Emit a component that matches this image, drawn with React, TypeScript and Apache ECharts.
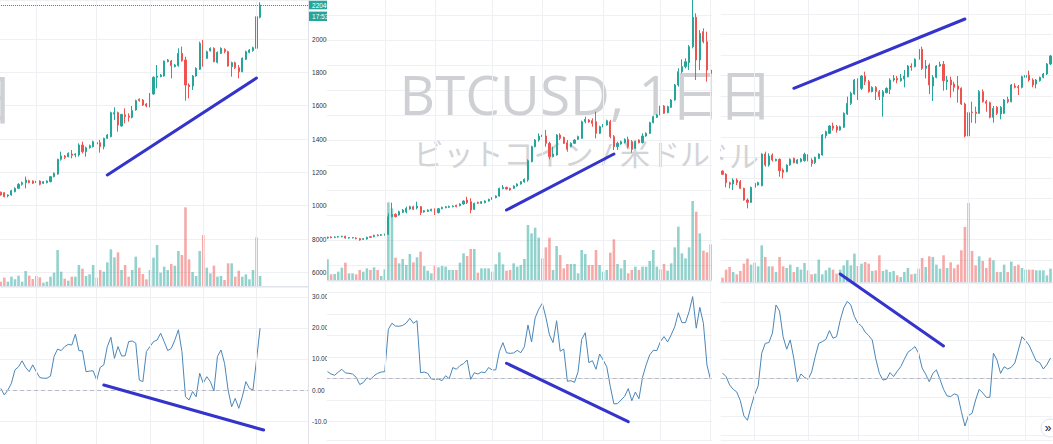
import React, { useEffect, useRef } from "react";
import * as echarts from "echarts";

// ---------- colours ----------
const UP = "#26a69a";
const DOWN = "#ef5350";
const UP_VOL = "rgba(38,166,154,0.5)";
const DOWN_VOL = "rgba(239,83,80,0.5)";
const GRID = "#eef0f3";
const BORDER = "#e0e3eb";
const OSC = "#4a86b8";
const PEN = "#3434cc";

// ---------- text ----------
const WATERMARK = "BTCUSD, 1日";
const WATERMARK_SUB = "ビットコイン / 米ドル";
const COUNTDOWN = "17:53";

// ---------- panel 1 data: [open, close, low, high] ----------
const p1Candles = [
  [10800, 10640, 10600, 10850], [10780, 10540, 10500, 10800], [10580, 10640, 10500, 10680], [10640, 10900, 10600, 10950],
  [10840, 11040, 10800, 11100], [11040, 11280, 11000, 11350], [11280, 11380, 11200, 11450], [11380, 11540, 11040, 11740],
  [11500, 11380, 11340, 11560], [11480, 11340, 11300, 11520], [11380, 11480, 11340, 11520], [11480, 11280, 11220, 11520],
  [11340, 11440, 11300, 11480], [11380, 11480, 11340, 11520], [11440, 11740, 11400, 11780], [11740, 11940, 11700, 12000],
  [11900, 12780, 11860, 12820], [12780, 12980, 12700, 13240], [12980, 12900, 12800, 13040], [12940, 13140, 12900, 13200],
  [13100, 13020, 12840, 13340], [13040, 13100, 12900, 13140], [13040, 13640, 12940, 13740], [13640, 13240, 13140, 13840],
  [13240, 13480, 12940, 13540], [13480, 13600, 13420, 13660], [13540, 13840, 13500, 13900], [13780, 13700, 13660, 13840],
  [13780, 13540, 13180, 13940], [13540, 14040, 13380, 14080], [14040, 14240, 14000, 14300], [14140, 15580, 14100, 15640],
  [15500, 15580, 15140, 15900], [15580, 14840, 14440, 15640], [14780, 15480, 14740, 15500], [15460, 15340, 14940, 15840],
  [15380, 15300, 15040, 15540], [15300, 15700, 15240, 15980], [15740, 16300, 15700, 16360], [16380, 16300, 16240, 16440],
  [16340, 16040, 15980, 16400], [16100, 15980, 15900, 16160], [15940, 16700, 15900, 16760], [16700, 17700, 16660, 17760],
  [17700, 17780, 17040, 18440], [17740, 17840, 17700, 17900], [17780, 18680, 17740, 18700], [18640, 18740, 18600, 18800],
  [18680, 18400, 17640, 18740], [18340, 18440, 18300, 18500], [18400, 19140, 18340, 19440], [19140, 18700, 18640, 19540],
  [18740, 17240, 16300, 18940], [17240, 17140, 16440, 17340], [17180, 17780, 16940, 17840], [17780, 18240, 17740, 18300],
  [18180, 19740, 18140, 19840], [19740, 18840, 18340, 19940], [18840, 19240, 18800, 19300], [19300, 19440, 19240, 19500],
  [19440, 18640, 18600, 19500], [18600, 19200, 18540, 19260], [19140, 19440, 19100, 19500], [19380, 19240, 19140, 19440],
  [19240, 18380, 18340, 19300], [18340, 18580, 17740, 18640], [18580, 18280, 18200, 18640], [18280, 18040, 17640, 18440],
  [18040, 18840, 18000, 18900], [18780, 19240, 18740, 19300], [19200, 19340, 19140, 19400], [19300, 19480, 19240, 19540],
  [19440, 21340, 19340, 21400], [21300, 22040, 21240, 22200],
];
const p1Volume = [
  13, 25, 13, 28, 20, 31, 13, 45, 31, 21, 30, 26, 10, 13, 28, 40, 108, 43, 22, 16,
  28, 28, 63, 52, 30, 35, 63, 25, 48, 43, 71, 110, 86, 101, 48, 63, 28, 48, 88, 55,
  36, 20, 48, 85, 123, 40, 58, 48, 66, 61, 105, 93, 236, 80, 42, 30, 105, 153, 55, 38,
  61, 28, 30, 18, 68, 68, 28, 46, 28, 35, 20, 48, 146, 30,
];
const p1Osc = [
  0.5, -1.6, 0, 2.2, 6.5, 7.5, 9.4, 7.3, 5.9, 8.1, 5.9, 4.0, 3.8, 3.8, 4.5, 10.8, 13.2, 12.7, 14.0, 14.7,
  14.5, 18.0, 12.7, 12.6, 5.9, 6.1, 6.2, 3.2, 7.3, 8.1, 14.0, 17.0, 10.2, 14.0, 11.0, 11.0, 15.6, 15.8, 15.1, 3.2,
  2.7, 12.4, 14.0, 15.6, 16.1, 18.3, 15.6, 12.7, 13.4, 16.1, 19.4, 12.4, -2.2, -3.2, -0.5, -2.2, 5.4, 2.2, 4.3, 2.7,
  -0.3, 10.8, 12.9, 8.6, 0, -5.4, -2.7, -5.9, -2.2, 2.7, 0.5, 0, 9.7, 19.9,
];
const p1GridDays = [10, 27, 42, 57, 72];
const p1PriceTrend = [[30, 11840], [72, 17660]];
const p1OscTrend = [[29, 1.6], [74, -12.9]];

// ---------- panel 2 data ----------
const p2Candles = [
  [8060, 8100, 8020, 8140], [8120, 8080, 8040, 8160], [8100, 8120, 8060, 8160], [8120, 8140, 8080, 8180],
  [8140, 8160, 8100, 8200], [8160, 8060, 8020, 8200], [8060, 8080, 8020, 8120], [8060, 8080, 8040, 8120],
  [8060, 8020, 7980, 8100], [8020, 7940, 7900, 8060], [7980, 8020, 7940, 8060], [8000, 8100, 7960, 8140],
  [8140, 8100, 8060, 8180], [8140, 8220, 8100, 8260], [8240, 8200, 8160, 8280], [8220, 8260, 8180, 8300],
  [8240, 8280, 8200, 8320], [8280, 9340, 8240, 9540], [9340, 9480, 9300, 10180], [9480, 9340, 9300, 9540],
  [9440, 9640, 9400, 9700], [9600, 9740, 9560, 9800], [9620, 9840, 9540, 9940], [9800, 9940, 9760, 10000],
  [9940, 9780, 9740, 10000], [9860, 9980, 9780, 10240], [9940, 9580, 9440, 9980], [9620, 9700, 9580, 9740],
  [9660, 9740, 9620, 9780], [9700, 9780, 9660, 9820], [9780, 9540, 9440, 9840], [9580, 9820, 9540, 9860],
  [9820, 9900, 9780, 9940], [9880, 9940, 9840, 9980], [9900, 9960, 9860, 10000], [9940, 9980, 9900, 10020],
  [10020, 9940, 9900, 10060], [10000, 10100, 9960, 10140], [10100, 10280, 10060, 10320], [10340, 10180, 10100, 10540],
  [10240, 9740, 9540, 10440], [9780, 10140, 9740, 10180], [10200, 10140, 10100, 10240], [10140, 10240, 10100, 10280],
  [10180, 10280, 10140, 10320], [10280, 10380, 10240, 10420], [10380, 10480, 10340, 10520], [10480, 10580, 10440, 10620],
  [10580, 11040, 10540, 11080], [11020, 11100, 10980, 11240], [11100, 11000, 10960, 11140], [11040, 10940, 10900, 11080],
  [11040, 11180, 11000, 11220], [11180, 11300, 11140, 11340], [11300, 11440, 11260, 11480], [11420, 11580, 11380, 11640],
  [11540, 12700, 11440, 12780], [12640, 13540, 12600, 13600], [13540, 13940, 13500, 14000], [13940, 14180, 13840, 14340],
  [14140, 14240, 14100, 14300], [14180, 13740, 13540, 14540], [13740, 12940, 12780, 13840], [12940, 13100, 12900, 13540],
  [13040, 14240, 13000, 14300], [14240, 14040, 13940, 14340], [14100, 13740, 13700, 14140], [13780, 13380, 13240, 13940],
  [13540, 13740, 13500, 13800], [13740, 13940, 13700, 14000], [13980, 14140, 13940, 14200], [14040, 15040, 14000, 15100],
  [15040, 15180, 14940, 15340], [15140, 15020, 14980, 15200], [15100, 14940, 14740, 15240], [15040, 14340, 14040, 15640],
  [14340, 14740, 14300, 14800], [14740, 14840, 14700, 14900], [14840, 15100, 14800, 15160], [15040, 14140, 14040, 15140],
  [14140, 13540, 13340, 14240], [13540, 13740, 13340, 13840], [13700, 13840, 13660, 13900], [13780, 13980, 13740, 14040],
  [13980, 13540, 13440, 14140], [13840, 13380, 13180, 13940], [13440, 13840, 13400, 13900], [13940, 13780, 13740, 13980],
  [13780, 14180, 13740, 14340], [14180, 14340, 14140, 14400], [14340, 14980, 14300, 15040], [14980, 15340, 14940, 15400],
  [15300, 15440, 15260, 15500], [15440, 15980, 15380, 16240], [15980, 15540, 15500, 16040], [15580, 15940, 15540, 16000],
  [15900, 16340, 15860, 16400], [16340, 17240, 16300, 17300], [17240, 18040, 17140, 18240], [18040, 18340, 17940, 18780],
  [18340, 18640, 18240, 18840], [18580, 19540, 18140, 19640], [19540, 21300, 19440, 22340], [21300, 18740, 17540, 21540],
  [18740, 20340, 18140, 20540], [20440, 19840, 19740, 20640], [19840, 18140, 17440, 20440], [18140, 17940, 17140, 18340],
];
const p2Volume = [
  62, 17, 18, 25, 37, 52, 20, 20, 17, 30, 25, 35, 30, 38, 30, 12, 32, 233, 215, 67,
  50, 63, 45, 78, 53, 68, 85, 42, 28, 20, 43, 38, 42, 40, 30, 30, 30, 52, 80, 72,
  93, 93, 22, 35, 35, 35, 25, 47, 83, 47, 28, 30, 50, 40, 45, 63, 165, 140, 157, 127,
  65, 98, 127, 30, 102, 75, 35, 48, 48, 48, 20, 90, 78, 45, 45, 90, 45, 25, 30, 82,
  122, 48, 35, 60, 20, 30, 40, 30, 40, 40, 57, 90, 40, 32, 48, 28, 50, 98, 160, 80,
  65, 98, 237, 205, 140, 88, 83, 107,
];
const p2Osc = [
  3.1, 2.0, 1.4, 2.9, 4.2, 2.5, 2.3, 2.0, 0.5, -2.9, -2.0, 0.2, -0.5, 1.2, 2.3, 2.9, 3.1, 22.8, 25.6, 24.3,
  24.2, 24.6, 25.7, 27.9, 25.6, 26.8, 2.6, 2.9, 2.3, -0.3, -0.5, -0.3, -1.1, 1.2, -0.2, 5.0, 4.2, 5.9, 6.8, 8.5,
  -0.5, 2.6, 2.0, 2.9, 2.6, 5.0, 3.9, 3.9, 12.4, 16.6, 11.9, 11.6, 11.8, 13.0, 11.9, 14.7, 24.8, 16.9, 28.1, 32.1,
  34.9, 28.4, 20.2, 16.6, 26.8, 12.6, 13.6, -1.4, -1.1, -1.9, 3.1, 18.1, 21.2, 7.3, 8.2, 4.2, 11.3, 8.5, 5.4, -3.9,
  -11.9, -11.8, -10.1, -8.4, -4.8, -10.4, -6.4, -9.5, 0.5, 6.2, 10.9, 13.0, 12.9, 17.1, 19.4, 16.9, 20.2, 24.0, 30.5, 25.9,
  25.9, 31.0, 38.0, 23.3, 33.0, 25.6, 6.2, -0.8,
];
const p2GridDays = [16, 30, 46, 60, 77, 93, 107];
const p2PriceTrend = [[50, 9740], [80, 13100]];
const p2OscTrend = [[50, 7.0], [84, -20.2]];

// ---------- panel 3 data ----------
const p3Candles = [
  [12080, 11880, 11840, 12120], [11900, 11380, 11100, 11940], [11380, 11280, 11040, 11440], [11300, 11540, 10940, 11640],
  [11540, 11380, 11240, 11640], [11440, 11040, 11000, 11540], [11040, 10340, 10300, 11080], [10340, 10200, 9840, 10440],
  [10200, 11100, 10160, 11140], [11100, 11340, 11040, 11540], [11240, 11380, 11200, 11440], [11200, 13100, 11160, 13140],
  [13100, 12440, 12340, 13240], [12440, 12980, 12340, 13140], [13040, 12740, 12640, 13140], [12700, 12780, 12660, 12820],
  [12780, 12100, 11740, 12840], [12140, 12000, 11640, 12240], [12040, 12440, 12000, 12480], [12440, 12780, 12400, 12840],
  [12840, 12580, 12540, 12880], [12540, 12740, 12500, 12800], [12640, 12800, 12600, 12860], [12700, 13080, 12640, 13180],
  [13040, 12700, 12660, 13080], [12740, 12540, 12340, 12840], [12580, 12900, 12500, 12940], [12840, 13100, 12800, 13140],
  [13040, 14240, 13000, 14300], [14200, 14440, 14040, 14500], [14340, 14780, 14300, 14840], [14780, 14640, 14500, 14980],
  [14740, 14540, 14380, 14840], [14540, 14740, 14500, 14800], [14700, 15540, 14660, 15600], [15500, 16140, 15440, 16540],
  [16140, 16740, 16040, 16840], [16700, 17540, 16660, 17600], [17540, 17040, 16340, 17640], [17040, 17780, 16940, 17840],
  [17780, 17440, 17240, 18040], [17440, 16840, 16780, 17540], [16840, 17100, 16800, 17160], [17100, 16840, 16340, 17180],
  [16840, 16540, 16340, 16940], [16540, 16840, 15340, 16940], [16780, 17040, 16740, 17100], [16980, 17540, 16700, 17640],
  [17540, 17640, 17440, 17840], [17640, 17540, 17340, 17780], [17500, 17640, 17440, 17900], [17600, 17780, 17100, 18140],
  [17740, 18380, 17700, 18440], [18380, 18300, 18100, 18540], [18340, 18780, 18300, 18840], [18780, 19380, 18740, 19440],
  [19380, 18240, 18140, 19540], [18240, 18380, 17640, 18740], [18440, 17240, 16700, 18540], [17180, 17700, 16280, 17840],
  [17700, 18380, 17640, 18440], [18380, 18480, 18340, 18640], [18480, 17500, 16900, 18680], [17440, 17540, 16940, 17780],
  [17540, 17240, 16480, 17740], [17300, 17100, 16840, 17440], [17180, 16980, 16180, 17780], [17040, 16100, 16040, 17100],
  [16100, 14180, 14100, 16180], [14180, 15580, 13400, 15640], [15620, 15580, 14980, 16240], [15620, 15540, 14940, 15940],
  [15540, 16840, 15500, 16940], [16840, 16240, 16180, 16980], [16240, 16140, 15640, 16340], [16180, 15300, 15240, 16240],
  [15300, 15840, 14980, 15980], [15900, 15540, 15440, 15980], [15500, 15900, 15180, 15980], [15540, 16340, 15500, 16400],
  [16380, 16240, 16140, 16540], [16240, 17240, 16200, 17300], [17180, 17100, 17040, 17340], [17140, 17080, 16640, 17240],
  [17100, 17740, 17040, 17800], [17700, 17820, 17540, 17940], [17820, 17540, 17440, 18100], [17540, 17240, 17100, 17640],
  [17300, 17540, 17040, 17600], [17500, 17700, 17440, 17740], [17700, 17900, 17640, 17960], [17900, 18500, 17840, 18560],
  [18500, 18980, 18440, 19040],
];
const p3Volume = [
  13, 37, 45, 30, 23, 33, 55, 70, 52, 58, 47, 110, 75, 47, 47, 30, 75, 47, 42, 52,
  30, 45, 37, 57, 35, 23, 25, 67, 23, 35, 43, 37, 25, 37, 50, 65, 50, 85, 48, 55,
  60, 55, 33, 35, 80, 33, 37, 30, 33, 20, 15, 30, 42, 23, 25, 40, 72, 45, 77, 75,
  52, 40, 80, 42, 59, 41, 52, 95, 165, 237, 93, 50, 77, 63, 42, 73, 65, 30, 30, 52,
  30, 61, 48, 52, 42, 37, 37, 37, 35, 35, 35, 20, 40,
];
const p3Osc = [
  2.8, 0.9, -3.5, -5.8, -7.2, -11.8, -19.8, -22.1, -14.9, -8.6, -4.0, 13.2, 18.4, 18.8, 23.7, 38.6, 35.4, 21.9, 15.3, 20.2,
  10.5, -1.8, 2.3, 0.5, -0.5, 3.3, 11.4, 18.4, 19.3, 20.5, 25.1, 21.1, 21.9, 30.4, 37.0, 40.5, 38.6, 32.5, 28.9, 27.5,
  24.4, 22.5, 20.2, 10.2, 2.6, -0.9, -0.5, 3.0, 0.9, 3.7, 6.1, 10.0, 13.7, 15.1, 16.7, 13.2, 5.4, 2.1, -1.8, 2.6,
  4.4, -0.5, -5.8, -9.3, -9.6, -8.2, -8.9, -17.5, -25.1, -19.6, -18.4, -11.4, -5.8, -7.7, -10.0, -10.0, 13.2, 9.6, 2.6, 6.1,
  4.9, 5.8, 8.1, 14.9, 21.9, 19.8, 17.4, 13.2, 9.1, 8.2, 4.9, 7.2, 10.7,
];
const p3GridDays = [9, 24, 38, 55, 69, 85];
const p3PriceTrend = [[20, 17042], [68, 21200]];
const p3OscTrend = [[33, 54.9], [62, 17.0]];

// ---------- layout of the three screenshots ----------
type Panel = {
  left: number; width: number;
  gridLeft: number; slotW: number; slots: number;
  priceH: number; oscTop: number; oscBottom: number;
  priceTop: number; pricePerPx: number; volMax: number;
  oscMin: number; oscMax: number; oscSplit: number;
  candles: number[][]; volume: number[]; osc: number[];
  gridDays: number[]; priceTrend: number[][]; oscTrend: number[][];
  showAxis: boolean; timeAxis: boolean;
  hLines?: { top: number; height: number; count: number };
  lastClose?: number;
  titleRight: number; titleY: number; subRight: number; subY: number;
  more?: { x: number; y: number };
};

const PANELS: Panel[] = [
  {
    left: 0, width: 327, gridLeft: -1, slotW: 3.552, slots: 87,
    priceH: 286, oscTop: 287, oscBottom: 444, priceTop: 22340, pricePerPx: 60, volMax: 858,
    oscMin: -17.4, oscMax: 33.2, oscSplit: 5,
    candles: p1Candles, volume: p1Volume, osc: p1Osc, gridDays: p1GridDays,
    priceTrend: p1PriceTrend, oscTrend: p1OscTrend, showAxis: true, timeAxis: false,
    lastClose: p1Candles[p1Candles.length - 1][1],
    titleRight: 14, titleY: 97, subRight: -8, subY: 156,
  },
  {
    left: 327, width: 385, gridLeft: -1.29, slotW: 3.58, slots: 108,
    priceH: 280, oscTop: 281, oscBottom: 440, priceTop: 22340, pricePerPx: 60, volMax: 840,
    oscMin: -28.7, oscMax: 45.26, oscSplit: 7,
    candles: p2Candles, volume: p2Volume, osc: p2Osc, gridDays: p2GridDays,
    priceTrend: p2PriceTrend, oscTrend: p2OscTrend, showAxis: false, timeAxis: true,
    hLines: { top: 15, height: 250, count: 10 },
    titleRight: 398, titleY: 93, subRight: 383, subY: 153,
  },
  {
    left: 720, width: 333, gridLeft: 0.72, slotW: 3.565, slots: 93,
    priceH: 282, oscTop: 282, oscBottom: 440, priceTop: 22340, pricePerPx: 60, volMax: 845,
    oscMin: -32.47, oscMax: 50.68, oscSplit: 8,
    candles: p3Candles, volume: p3Volume, osc: p3Osc, gridDays: p3GridDays,
    priceTrend: p3PriceTrend, oscTrend: p3OscTrend, showAxis: false, timeAxis: true,
    hLines: { top: 14, height: 246, count: 12 },
    titleRight: 53, titleY: 93, subRight: 39, subY: 155, more: { x: 330, y: 428 },
  },
];

const LABEL_FONT = "'Liberation Sans', Arial, sans-serif";
const WM_FONT = "'Open Sans', 'Noto Sans CJK JP', sans-serif";

function buildOption(p: Panel): any {
  const cats = Array.from({ length: p.slots }, (_, i) => `D${i + 1}`);
  const gridW = p.slots * p.slotW;
  const volData = p.volume.map((v, i) => ({
    value: v,
    itemStyle: { color: p.candles[i][1] >= p.candles[i][0] ? UP_VOL : DOWN_VOL },
  }));
  const dayLines = p.gridDays.map((d) => ({ xAxis: d }));
  const vLineMark = {
    silent: true, symbol: ["none", "none"], label: { show: false }, animation: false,
    emphasis: { disabled: true },
    lineStyle: { color: GRID, width: 1, type: "solid" },
    data: dayLines,
  };
  const gridBase = { outerBoundsMode: "none", containLabel: false };
  const grid: any[] = [
    { ...gridBase, left: p.gridLeft, top: 0, width: gridW, height: p.priceH },
    { ...gridBase, left: p.gridLeft, top: p.oscTop, width: gridW, height: p.oscBottom - p.oscTop },
  ];
  const xAxis: any[] = [
    {
      type: "category", gridIndex: 0, data: cats,
      axisLine: { show: true, lineStyle: { color: BORDER } },
      axisTick: { show: false }, axisLabel: { show: false }, splitLine: { show: false },
    },
    {
      type: "category", gridIndex: 1, data: cats,
      axisLine: { show: p.timeAxis, lineStyle: { color: BORDER } },
      axisTick: {
        show: p.timeAxis, alignWithLabel: true, length: 4,
        interval: (i: number) => p.gridDays.indexOf(i) >= 0,
        lineStyle: { color: BORDER },
      },
      axisLabel: { show: false }, splitLine: { show: false },
    },
  ];
  const yAxis: any[] = [
    {
      type: "value", gridIndex: 0, position: "right", show: p.showAxis,
      min: p.priceTop - p.pricePerPx * p.priceH, max: p.priceTop, splitNumber: 8,
      axisLine: { show: true, lineStyle: { color: BORDER } }, axisTick: { show: false },
      axisLabel: {
        fontSize: 6.5, color: "#2f3238", margin: 4, fontFamily: LABEL_FONT,
        formatter: (v: number) => (v % 2000 === 0 && v <= 20000 ? v.toFixed(2) : ""),
      },
      splitLine: { show: true, lineStyle: { color: GRID } },
    },
    { type: "value", gridIndex: 0, min: 0, max: p.volMax, show: false },
    {
      type: "value", gridIndex: 1, position: "right",
      min: p.oscMin, max: p.oscMax, splitNumber: p.oscSplit,
      axisLine: { show: p.showAxis, lineStyle: { color: BORDER } }, axisTick: { show: false },
      axisLabel: {
        show: p.showAxis, fontSize: 6.5, color: "#2f3238", margin: 4, fontFamily: LABEL_FONT,
        formatter: (v: number) => (Math.abs(v - Math.round(v / 10) * 10) < 1e-6 ? v.toFixed(2) : ""),
      },
      splitLine: { show: true, lineStyle: { color: GRID } },
    },
  ];
  if (p.hLines) {
    grid.push({ ...gridBase, left: p.gridLeft, top: p.hLines.top, width: gridW, height: p.hLines.height });
    xAxis.push({ type: "value", gridIndex: 2, show: false, min: 0, max: 1 });
    yAxis.push({
      type: "value", gridIndex: 2, min: 0, max: p.hLines.count, interval: 1,
      axisLine: { show: false }, axisTick: { show: false }, axisLabel: { show: false },
      splitLine: { show: true, lineStyle: { color: GRID } },
    });
  }
  const series: any[] = [
    {
      type: "bar", xAxisIndex: 0, yAxisIndex: 1, data: volData, barWidth: "72%", z: 1,
      silent: true, markLine: vLineMark,
    },
    {
      type: "candlestick", xAxisIndex: 0, yAxisIndex: 0, data: p.candles, barWidth: "45%", z: 3,
      silent: true,
      itemStyle: { color: UP, color0: DOWN, borderColor: UP, borderColor0: DOWN, borderWidth: 1 },
      markLine: p.lastClose != null ? {
        silent: true, symbol: ["none", "none"], label: { show: false }, animation: false,
        lineStyle: { color: UP, width: 1, type: "dotted" },
        data: [{ yAxis: p.lastClose }],
      } : undefined,
    },
    {
      type: "line", xAxisIndex: 1, yAxisIndex: 2, data: p.osc, showSymbol: false, symbol: "none",
      lineStyle: { color: OSC, width: 1 }, z: 3, silent: true,
      markLine: {
        silent: true, symbol: ["none", "none"], label: { show: false }, animation: false,
        emphasis: { disabled: true },
        data: [
          ...dayLines.map((d) => ({ ...d, lineStyle: { color: GRID, width: 1, type: "solid" } })),
          { yAxis: 0, lineStyle: { color: "#b8bbc4", width: 1, type: [4, 3] } },
        ],
      },
    },
  ];
  return { animation: false, grid, xAxis, yAxis, series };
}

function buildGraphics(chart: any, p: Panel): any[] {
  const g: any[] = [];
  g.push({
    type: "text", x: p.titleRight, y: p.titleY, z: 0, silent: true,
    style: { text: WATERMARK, fontSize: 55, fontFamily: WM_FONT, fill: "#cfd0d4", align: "right", verticalAlign: "middle" },
  });
  g.push({
    type: "text", x: p.subRight, y: p.subY, z: 0, silent: true,
    style: { text: WATERMARK_SUB, fontSize: 30, fontFamily: WM_FONT, fill: "#d3d4d8", align: "right", verticalAlign: "middle" },
  });
  const pricePx = (pt: number[]) => chart.convertToPixel({ xAxisIndex: 0, yAxisIndex: 0 }, pt);
  const oscPx = (pt: number[]) => chart.convertToPixel({ xAxisIndex: 1, yAxisIndex: 2 }, pt);
  const seg = (a: number[], b: number[]) => ({
    type: "line", z: 20, silent: true,
    shape: { x1: a[0], y1: a[1], x2: b[0], y2: b[1] },
    style: { stroke: PEN, lineWidth: 3, lineCap: "round" },
  });
  g.push(seg(pricePx(p.priceTrend[0]), pricePx(p.priceTrend[1])));
  g.push(seg(oscPx(p.oscTrend[0]), oscPx(p.oscTrend[1])));
  if (p.lastClose != null) {
    const yc = chart.convertToPixel({ yAxisIndex: 0 }, p.lastClose);
    const x0 = p.gridLeft + p.slots * p.slotW + 1;
    g.push({ type: "rect", z: 30, shape: { x: x0, y: yc - 4.3, width: 30, height: 8.6 }, style: { fill: UP } });
    g.push({
      type: "text", z: 31, x: x0 + 3, y: yc,
      style: { text: p.lastClose.toFixed(2), fontSize: 6.5, fontFamily: LABEL_FONT, fill: "#fff", verticalAlign: "middle" },
    });
    g.push({ type: "rect", z: 30, shape: { x: x0, y: yc + 6.6, width: 30, height: 9.4 }, style: { fill: UP } });
    g.push({
      type: "text", z: 31, x: x0 + 3, y: yc + 11.3,
      style: { text: COUNTDOWN, fontSize: 6.5, fontFamily: LABEL_FONT, fill: "#fff", verticalAlign: "middle" },
    });
  }
  if (p.more) {
    g.push({ type: "circle", z: 40, shape: { cx: p.more.x, cy: p.more.y, r: 9 }, style: { fill: "#fff", stroke: "#e0e3eb", lineWidth: 1 } });
    g.push({
      type: "text", z: 41, x: p.more.x - 2, y: p.more.y,
      style: { text: "»", fontSize: 12, fontFamily: LABEL_FONT, fill: "#131722", align: "center", verticalAlign: "middle" },
    });
  }
  return g;
}

function PanelChart({ panel }: { panel: Panel }) {
  const ref = useRef<HTMLDivElement>(null);
  useEffect(() => {
    const el = ref.current;
    if (!el) return;
    const chart = echarts.init(el, null, { renderer: "svg" });
    chart.setOption(buildOption(panel));
    chart.setOption({ graphic: buildGraphics(chart, panel) });
    return () => chart.dispose();
  }, [panel]);
  return (
    <div
      ref={ref}
      style={{ position: "absolute", left: panel.left, top: 0, width: panel.width, height: 444, overflow: "hidden" }}
    />
  );
}

export default function App() {
  return (
    <div style={{ position: "fixed", left: 0, top: 0, width: 1053, height: 444, background: "#fff", overflow: "hidden" }}>
      {PANELS.map((p, i) => (
        <PanelChart key={i} panel={p} />
      ))}
    </div>
  );
}
